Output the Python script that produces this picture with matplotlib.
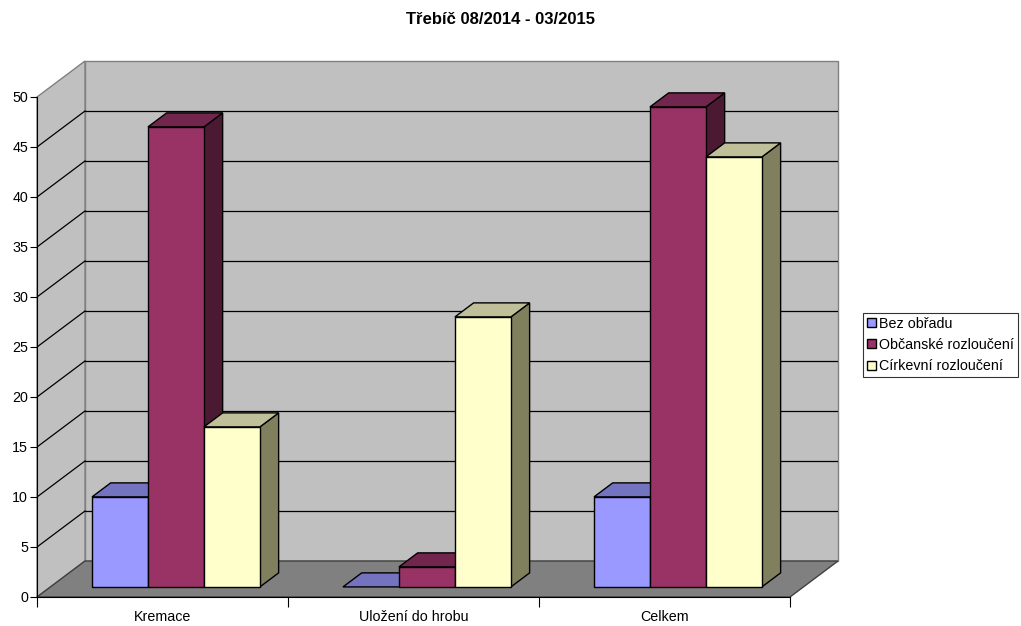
import matplotlib.pyplot as plt
from matplotlib.patches import Polygon, Patch

plt.rcParams['font.family'] = ['Liberation Sans', 'DejaVu Sans']

# data
title = "Třebíč 08/2014 - 03/2015"
categories = ["Kremace", "Uložení do hrobu", "Celkem"]
series_names = ["Bez obřadu", "Občanské rozloučení", "Církevní rozloučení"]
bez_obradu = [9, 0, 9]
obcanske = [46, 2, 48]
cirkevni = [16, 27, 43]
series_values = [bez_obradu, obcanske, cirkevni]

# excel-like colours: front face, top (darker), side (darkest)
front_colors = ["#9999FF", "#993366", "#FFFFCC"]
top_colors = ["#7373BF", "#73264D", "#BFBF99"]
side_colors = ["#4C4C80", "#4C1933", "#80805F"]

ymax = 50
n_cat = len(categories)

# oblique depth of the whole floor, in data units (x: categories, y: values)
Dx = 48 / 251
Dy = 3.6
f0, f1 = 0.28, 0.67          # front/back depth fraction of the bars
bar_w = 0.223
gap = (1 - 3 * bar_w) / 2

fig = plt.figure(figsize=(10.21, 6.26), dpi=100)
ax = fig.add_axes([37 / 1021, 29 / 626, 801 / 1021, 536 / 626])
ax.set_xlim(0, n_cat + Dx)
ax.set_ylim(0, ymax + Dy)

wall = "#C0C0C0"
edge = "#808080"

# back wall, side wall, floor
ax.add_patch(Polygon([(Dx, Dy), (n_cat + Dx, Dy), (n_cat + Dx, ymax + Dy), (Dx, ymax + Dy)],
                     closed=True, fc=wall, ec=edge, lw=1, clip_on=False, zorder=0))
ax.add_patch(Polygon([(0, 0), (Dx, Dy), (Dx, ymax + Dy), (0, ymax)],
                     closed=True, fc=wall, ec=edge, lw=1, clip_on=False, zorder=0))
ax.add_patch(Polygon([(0, 0), (n_cat, 0), (n_cat + Dx, Dy), (Dx, Dy)],
                     closed=True, fc="#808080", ec="#404040", lw=1, clip_on=False, zorder=0.5))

# gridlines on back and side walls
for v in range(5, ymax, 5):
    ax.plot([Dx, n_cat + Dx], [v + Dy, v + Dy], color="black", lw=0.9, zorder=0.3)
    ax.plot([0, Dx], [v, v + Dy], color="black", lw=0.9, zorder=0.3)

# bars
ddx = (f1 - f0) * Dx
ddy = (f1 - f0) * Dy
z = 2
for j in range(n_cat):
    for i, vals in enumerate(series_values):
        v = vals[j]
        x0 = j + gap + i * bar_w + f0 * Dx
        x1 = x0 + bar_w
        base = f0 * Dy
        top = base + v
        ax.add_patch(Polygon([(x1, base), (x1, top), (x1 + ddx, top + ddy), (x1 + ddx, base + ddy)],
                             closed=True, fc=side_colors[i], ec="black", lw=1, zorder=z))
        ax.add_patch(Polygon([(x0, top), (x1, top), (x1 + ddx, top + ddy), (x0 + ddx, top + ddy)],
                             closed=True, fc=top_colors[i], ec="black", lw=1, zorder=z + 0.1))
        if v > 0:
            ax.bar(x0, v, width=bar_w, bottom=base, align="edge", color=front_colors[i],
                   edgecolor="black", linewidth=1, zorder=z + 0.2)
        z += 1

# axes
for s in ["top", "right"]:
    ax.spines[s].set_visible(False)
ax.spines["left"].set_bounds(0, ymax)
ax.spines["bottom"].set_bounds(0, n_cat)
ax.spines["left"].set_zorder(1)
ax.spines["bottom"].set_zorder(1)

ax.set_yticks(range(0, ymax + 1, 5))
ax.tick_params(axis="y", length=5, width=0.8, pad=1.5, labelsize=10.3)
ax.set_xticks(range(n_cat + 1))
ax.set_xticklabels([])
ax.tick_params(axis="x", which="major", length=7, width=0.8)
ax.set_xticks([j + 0.5 for j in range(n_cat)], minor=True)
ax.set_xticklabels(categories, minor=True)
ax.tick_params(axis="x", which="minor", length=0, pad=9.5, labelsize=10.3)

fig.text(0.49, 1 - 20 / 626, title, ha="center", va="center", fontsize=12, fontweight="bold")

handles = [Patch(facecolor=front_colors[i], edgecolor="black", lw=1) for i in range(3)]
leg = fig.legend(handles, series_names, loc="center left", bbox_to_anchor=(863 / 1021, 1 - 345 / 626),
                 fontsize=10.3, frameon=True, fancybox=False, handlelength=0.6, handleheight=0.6,
                 handletextpad=0.2, labelspacing=0.5, borderpad=0.3, borderaxespad=0)
leg.get_frame().set_edgecolor("black")
leg.get_frame().set_linewidth(0.8)

fig.savefig("out.png", dpi=100)
